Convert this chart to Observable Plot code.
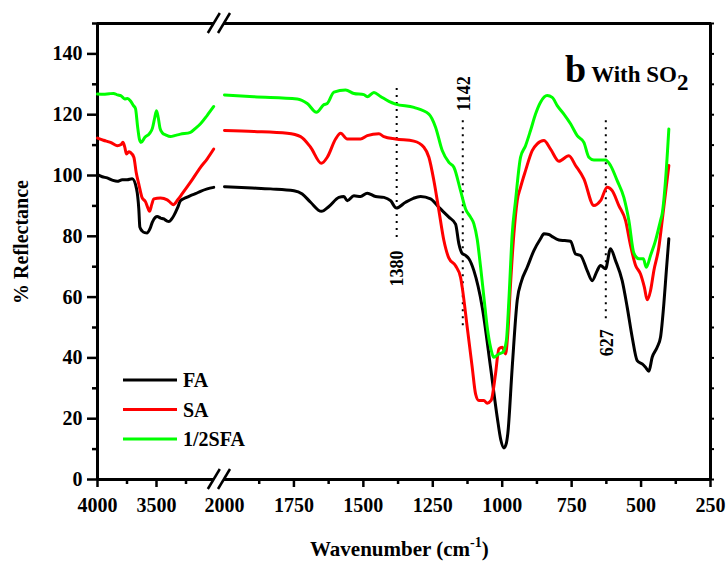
<!DOCTYPE html>
<html>
<head>
<meta charset="utf-8">
<script src="https://cdn.jsdelivr.net/npm/d3@7"></script>
<script src="https://cdn.jsdelivr.net/npm/@observablehq/plot@0.6"></script>
<style>
  html, body { margin: 0; padding: 0; background: #fff; }
  svg { display: block; }
</style>
</head>
<body>
<div id="chart"></div>
<script>
// ---------- data (wavenumber cm^-1, % reflectance) ----------
const seriesNames = ["FA", "SA", "1/2SFA"];
const seriesColors = ["#000000", "#ff0000", "#00ff00"];

const faLeft = [[4000,100.3],[3960,99.6],[3918,99.2],[3870,98.4],[3833,98.1],[3790,98.6],[3749,98.6],[3706,98.9],[3669,95.6],[3650,89],[3641,83],[3621,81.7],[3600,81.2],[3579,81.1],[3555,82.5],[3536,84.6],[3510,86.2],[3494,86.5],[3465,86],[3438,85.7],[3410,85],[3395,84.9],[3375,85.5],[3353,86.8],[3320,89.5],[3297,91.7],[3250,92.7],[3212,93.4],[3170,94],[3127,94.8],[3070,95.6],[3015,96.1]];
const faRight = [[2000,96.3],[1900,95.9],[1834,95.6],[1750,95],[1720,93.9],[1690,91.2],[1651,88.2],[1624,89.8],[1588,92.8],[1570,93.1],[1558,91.7],[1534,93.3],[1510,93.1],[1486,94.2],[1456,93.1],[1426,92.8],[1402,91.7],[1381,89.3],[1348,91.2],[1320,92.5],[1294,93.1],[1258,92.3],[1228,89.5],[1192,86.3],[1168,84],[1156,77.5],[1145,74.5],[1132,73.7],[1120,72.6],[1102,68.7],[1072,56.7],[1042,36.9],[1018,20.5],[1005,13],[994,10.4],[985,12],[980,15],[964,36.9],[946,58.9],[930,65.4],[910,69.8],[886,75.3],[862,79.2],[850,80.8],[832,80.6],[820,79.9],[796,78.8],[775,78.6],[754,78.4],[736,74.2],[718,73.7],[694,68.7],[676,65.4],[658,68.7],[646,70.4],[628,69.3],[610,75.9],[592,72],[568,65.4],[550,56.7],[532,46.8],[514,39.1],[496,38],[484,36.9],[472,35.6],[460,40.2],[442,43.5],[430,46.8],[418,57.8],[409,68.7],[400,79.2]];

const saLeft = [[4000,112.3],[3950,111.6],[3890,110.9],[3833,109.8],[3800,110.2],[3785,110.9],[3770,109.5],[3754,107.1],[3735,107.8],[3720,107.6],[3692,106],[3672,101],[3650,97.2],[3621,92.6],[3595,91.5],[3570,89],[3559,88.2],[3540,90.5],[3523,92.3],[3466,92.6],[3409,92],[3380,91],[3358,90.4],[3320,92],[3282,94],[3212,97.8],[3127,102.7],[3070,105.5],[3015,108.7]];
const saRight = [[2000,114.8],[1894,114.5],[1774,113.9],[1726,112.8],[1690,109.3],[1651,104],[1630,106],[1600,112],[1582,113.9],[1558,112],[1510,112],[1486,113.1],[1444,113.7],[1426,112.8],[1384,112],[1318,111.3],[1282,109.3],[1264,106],[1246,98.3],[1228,88.5],[1210,78.6],[1192,72.8],[1168,70.3],[1150,66.5],[1144,63.2],[1126,50.1],[1108,36.9],[1096,28.2],[1084,26],[1066,26],[1054,25.1],[1040,26],[1024,34.8],[1012,43],[1000,43.5],[988,41.3],[980,47.9],[970,64.4],[958,80.8],[946,91.7],[934,96.1],[916,101.6],[892,108.2],[874,110.4],[850,111.5],[826,108.7],[796,104.7],[760,106.5],[736,103.3],[706,98.9],[670,90.1],[646,91.7],[622,96.1],[604,95],[580,90.1],[556,85.2],[538,77],[520,70.5],[502,67.6],[488,63.2],[478,59.1],[466,62.1],[454,68.7],[436,76.4],[424,85.2],[400,103.3]];

const sfaLeft = [[4000,126.8],[3950,126.7],[3900,126.9],[3864,127],[3830,126.5],[3800,126.2],[3770,125.2],[3745,125.3],[3720,124.5],[3695,123],[3678,122],[3660,116],[3645,112],[3630,110.9],[3600,112.5],[3560,113.8],[3535,115.5],[3515,119],[3500,121.3],[3485,119],[3470,115.5],[3450,114],[3420,113.3],[3381,112.8],[3340,113.2],[3297,113.6],[3212,114.2],[3170,115.5],[3127,117],[3070,119.8],[3015,122.7]];
const sfaRight = [[2000,126.5],[1894,125.9],[1738,125.2],[1702,123.7],[1669,120.8],[1642,123.3],[1630,123.7],[1606,127.4],[1564,128.1],[1534,127],[1498,126.6],[1486,125.9],[1462,127.3],[1438,126],[1408,124.4],[1384,123.5],[1318,122.4],[1264,120.2],[1240,115.9],[1216,108.2],[1192,104.3],[1174,102.7],[1150,95],[1132,89],[1114,86.3],[1102,84.1],[1090,79],[1078,70],[1066,60],[1054,50.1],[1042,43.5],[1030,40.2],[1012,41.3],[997,41.9],[985,45.7],[976,58.9],[964,80.8],[952,91.7],[934,106],[916,109.8],[898,114.8],[880,120.2],[862,124.1],[838,126.3],[820,125.7],[802,123],[778,120.2],[754,117],[730,113.1],[706,110.9],[688,106],[670,105.1],[628,105.1],[610,103.3],[586,98.3],[562,92.8],[544,85.2],[526,74.5],[508,72.6],[492,72.6],[481,69.8],[466,73.7],[448,78.6],[430,85.2],[424,87.4],[412,98.3],[400,115.3]];

// axis ticks
const xDomainBreaks = [4000, 3000, 2000, 250];
const xMajorTicks = [4000, 3500, 1750, 1500, 1250, 1000, 750, 500, 250];
const xTickLabels = [4000, 3500, 2000, 1750, 1500, 1250, 1000, 750, 500, 250];
const xMinorTicks = [3750, 3250, 1875, 1625, 1375, 1125, 875, 625, 375];
const yTickLabels = [0, 20, 40, 60, 80, 100, 120, 140];
const yMinorTicks = [10, 30, 50, 70, 90, 110, 130, 150];

// peak annotations
const peakWavenumbers = [1380, 1142, 627];
const peakLabels = ["1380", "1142", "627"];
const peakLineTop = [129.6, 119.1, 118];
const peakLineBottom = [79.6, 50.6, 52.9];
const peakLabelY = [69.4, 126.9, 45];

// ---------- build tables ----------
const seriesData = [[faLeft, faRight], [saLeft, saRight], [sfaLeft, sfaRight]];
const rows = [];
seriesData.forEach((parts, si) => {
  parts.forEach((part, pi) => {
    part.forEach(([wn, r]) => rows.push({series: seriesNames[si], seg: seriesNames[si] + "-" + pi, wn, r}));
  });
});
const peaks = peakWavenumbers.map((w, i) => ({w, label: peakLabels[i], top: peakLineTop[i], bottom: peakLineBottom[i], ly: peakLabelY[i]}));

const serif = "'Liberation Serif', 'Times New Roman', serif";
const breakLeftWn = 3010, breakRightWn = 2000;

const plot = Plot.plot({
  width: 728,
  height: 561,
  marginLeft: 97,
  marginRight: 18,
  marginTop: 23,
  marginBottom: 82,
  style: {fontFamily: serif, fontSize: "20px", fontWeight: "bold", color: "#000", background: "#fff"},
  x: {type: "linear", domain: xDomainBreaks, range: [97, 215, 224, 710]},
  y: {domain: [0, 150]},
  marks: [
    // axes
    Plot.axisX({anchor: "bottom", ticks: xMajorTicks, tickSize: 8, strokeWidth: 2.5, tickFormat: () => "", label: null}),
    Plot.axisX({anchor: "bottom", ticks: xMinorTicks, tickSize: 5, strokeWidth: 2.5, tickFormat: () => "", label: null}),
    Plot.axisX({anchor: "bottom", ticks: xTickLabels, tickSize: 0, tickPadding: 18, fontSize: 20, fontWeight: "bold", tickFormat: d => String(d), label: null}),
    Plot.axisX({anchor: "top", ticks: xMajorTicks.concat(xMinorTicks), tickSize: 2, strokeWidth: 1.5, tickFormat: () => "", label: null}),
    Plot.axisY({anchor: "left", ticks: yTickLabels, tickSize: 10, tickPadding: 5, strokeWidth: 2.5, fontSize: 20, fontWeight: "bold", tickFormat: d => String(d), label: null}),
    Plot.axisY({anchor: "left", ticks: yMinorTicks, tickSize: 5, strokeWidth: 2.5, tickFormat: () => "", label: null}),
    Plot.axisY({anchor: "right", ticks: yTickLabels.concat(yMinorTicks), tickSize: 3, strokeWidth: 2, tickFormat: () => "", label: null}),
    // frame (broken x axis)
    Plot.ruleX([xDomainBreaks[0], xDomainBreaks[3]], {y1: 0, y2: 150, strokeWidth: 3}),
    Plot.ruleY([0, 150], {x1: xDomainBreaks[0], x2: breakLeftWn, strokeWidth: 3}),
    Plot.ruleY([0, 150], {x1: breakRightWn, x2: xDomainBreaks[3], strokeWidth: 3}),
    // peak markers
    Plot.ruleX(peaks, {x: "w", y1: "bottom", y2: "top", stroke: "#000", strokeWidth: 2, strokeDasharray: "2,5"}),
    Plot.text(peaks, {x: "w", y: "ly", text: "label", rotate: -90, dx: 1, fontSize: 18, fontWeight: "bold"}),
    // spectra
    ...seriesNames.map((name, i) => Plot.line(rows.filter(d => d.series === name), {x: "wn", y: "r", z: "seg", stroke: seriesColors[i], strokeWidth: 3, strokeLinejoin: "round", curve: "monotone-x"}))
  ]
});

document.getElementById("chart").appendChild(plot);

// ---------- decorations: axis breaks, legend, titles ----------
const svg = d3.select(plot);
const xs = plot.scale("x"), ys = plot.scale("y");
for (const wn of [breakLeftWn, breakRightWn]) {
  for (const yv of [0, 150]) {
    const cx = xs.apply(wn), cy = ys.apply(yv);
    svg.append("line").attr("x1", cx - 6).attr("y1", cy + 10).attr("x2", cx + 6).attr("y2", cy - 10)
      .attr("stroke", "#000").attr("stroke-width", 2.5);
  }
}

// legend
const legend = svg.append("g").attr("font-family", serif).attr("font-weight", "bold").attr("font-size", 20).attr("text-anchor", "start");
seriesNames.forEach((name, i) => {
  const ly = 380 + i * 29.5;
  legend.append("line").attr("x1", 123).attr("x2", 177).attr("y1", ly).attr("y2", ly)
    .attr("stroke", seriesColors[i]).attr("stroke-width", 3);
  legend.append("text").attr("x", 183).attr("y", ly + 7).attr("fill", "#000").text(name);
});

// panel title
const title = svg.append("text").attr("x", 565).attr("y", 82).attr("text-anchor", "start").attr("font-family", serif).attr("font-weight", "bold").attr("fill", "#000");
title.append("tspan").attr("font-size", 38).text("b");
title.append("tspan").attr("font-size", 23).attr("dx", 5).text("With SO");
title.append("tspan").attr("font-size", 23).attr("dy", 8).text("2");

// axis titles
const xt = svg.append("text").attr("x", 310).attr("y", 556).attr("text-anchor", "start").attr("font-family", serif).attr("font-weight", "bold").attr("font-size", 21).attr("fill", "#000");
xt.append("tspan").text("Wavenumber (cm");
xt.append("tspan").attr("font-size", 14).attr("dy", -9).text("-1");
xt.append("tspan").attr("dy", 9).text(")");

svg.append("text").attr("transform", "translate(28,242) rotate(-90)").attr("text-anchor", "middle")
  .attr("font-family", serif).attr("font-weight", "bold").attr("font-size", 20).attr("fill", "#000")
  .text("% Reflectance");
</script>
</body>
</html>
